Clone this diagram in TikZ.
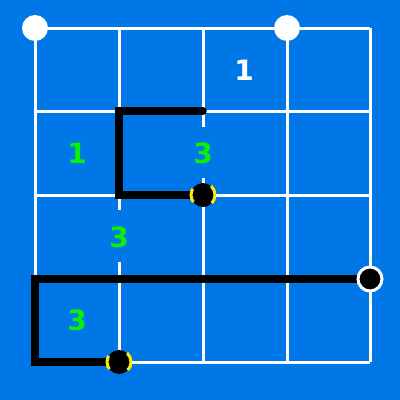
\documentclass[tikz,border=0pt]{standalone}
\usepackage{fontspec}
\setmainfont{DejaVu Sans}
\definecolor{bg}{RGB}{0,119,230}
\definecolor{grn}{RGB}{10,240,10}
\definecolor{ylw}{RGB}{250,235,0}
\begin{document}
\begin{tikzpicture}[x=1pt,y=-1pt,
  gridline/.style={white,line width=3pt},
  pathline/.style={black,line width=7.5pt,line cap=round,line join=miter},
  wdot/.style={circle,fill=white,minimum size=26pt,inner sep=0pt},
  ydot/.style={circle,fill=black,draw=ylw,line width=3pt,dash pattern=on 14pt off 21pt,dash phase=4pt,minimum size=24pt,inner sep=0pt},
  bdot/.style={circle,fill=black,draw=white,line width=3pt,minimum size=24pt,inner sep=0pt},
  numg/.style={text=grn,font=\bfseries\fontsize{28}{28}\selectfont,inner sep=0pt},
  numw/.style={text=white,font=\bfseries\fontsize{28}{28}\selectfont,inner sep=0pt}]
\fill[bg] (0,0) rectangle (400,400);
\useasboundingbox (0,0) rectangle (400,400);
% horizontal grid lines
\foreach \y in {28,111,195,279,362} \draw[gridline] (35,\y) -- (370,\y);
% vertical grid lines
\draw[gridline] (35,28) -- (35,362);
\draw[gridline] (119,28) -- (119,210);
\draw[gridline] (119,262) -- (119,362);
\draw[gridline] (203,28) -- (203,127);
\draw[gridline] (203,178) -- (203,362);
\draw[gridline] (287,28) -- (287,362);
\draw[gridline] (370,28) -- (370,362);
% coordinates
\coordinate (p1) at (203,111);
\coordinate (p2) at (119,111);
\coordinate (p3) at (119,195);
\coordinate (q2) at (35,279);
\coordinate (q3) at (35,362);
% dots
\node[wdot] (w1) at (35,28) {};
\node[wdot] (w2) at (287,28) {};
% black paths
\draw[pathline] (p1) -- (p2) -- (p3) -- (203,195);
\draw[pathline] (370,279) -- (q2) -- (q3) -- (119,362);
\node[ydot] (y1) at (203,195) {};
\node[ydot] (y2) at (119,362) {};
\node[bdot] (b1) at (370,279) {};
% numbers
\node[numw] (n1) at (244,70) {1};
\node[numg] (n2) at (77,153) {1};
\node[numg] (n3) at (203,153) {3};
\node[numg] (n4) at (119,237) {3};
\node[numg] (n5) at (77,320) {3};
\end{tikzpicture}
\end{document}
